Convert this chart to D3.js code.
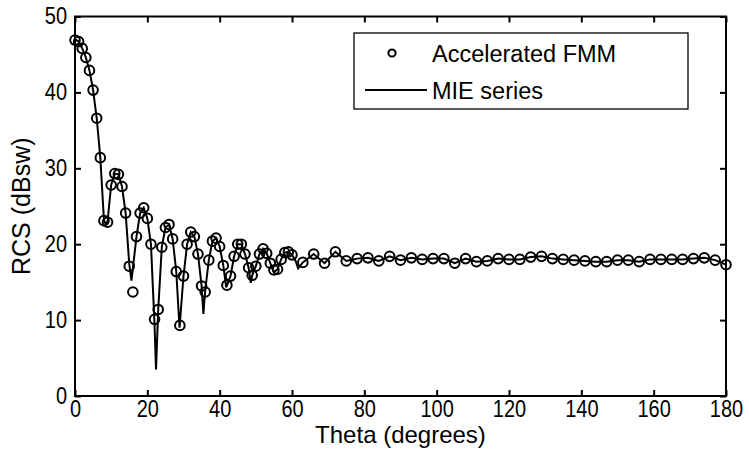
<!DOCTYPE html>
<html>
<head>
<meta charset="utf-8">
<script src="https://cdn.jsdelivr.net/npm/d3@7"></script>
<style>
  html, body { margin: 0; padding: 0; background: #fff; }
  svg { display: block; }
  text { font-family: "Liberation Sans", Arial, sans-serif; fill: #000; }
</style>
</head>
<body>
<svg id="chart" width="749" height="459"></svg>
<script>
// ---- data ----
const fmmTheta = [0,1,2,3,4,5,6,7,8,9,10,11,12,13,14,15,16,17,18,19,20,21,22,23,24,25,26,27,28,29,30,
  31,32,33,34,35,36,37,38,39,40,41,42,43,44,45,46,47,48,49,50,51,52,53,54,55,56,57,58,59,60,
  63,66,69,72,75,78,81,84,87,90,93,96,99,102,105,108,111,114,117,120,123,126,129,132,135,138,141,144,147,150,153,156,159,162,165,168,171,174,177,180];
const fmmRcs = [46.9,46.7,45.8,44.6,42.9,40.3,36.6,31.4,23.1,22.9,27.8,29.3,29.2,27.6,24.1,17.1,13.7,21.0,24.1,24.8,23.4,20.0,10.1,11.4,19.6,22.2,22.6,20.7,16.4,9.3,15.8,
  20.0,21.6,21.0,18.7,14.5,13.7,17.9,20.4,20.8,19.7,17.2,14.6,15.8,18.4,20.0,20.0,18.7,16.9,15.9,17.1,18.7,19.4,18.8,17.5,16.6,16.7,18.0,18.9,19.0,18.6,
  17.6,18.7,17.5,19.0,17.8,18.1,18.2,17.8,18.4,17.9,18.2,18.0,18.1,18.1,17.5,18.1,17.7,17.8,18.1,18.0,18.0,18.3,18.4,18.1,18.0,17.9,17.8,17.7,17.7,17.9,17.9,17.7,18.0,18.0,18.0,18.0,18.1,18.2,17.9,17.3];

const mieTheta = [0,1,2,3,4,5,6,7,8,8.5,9,10,11,12,13,14,15,15.6,16,17,18,19,20,21,22,22.4,23,24,25,26,27,28,28.9,30,
  31,32,33,34,35,35.5,36,37,38,39,40,41,41.8,43,44,45,46,47,48,48.6,49,50,51,52,53,54,55,56,57,58,59,60,61,61.7,
  63,66,69,72,75,78,81,84,87,90,93,96,99,102,105,108,111,114,117,120,123,126,129,132,135,138,141,144,147,150,153,156,159,162,165,168,171,174,177,180];
const mieRcs = [47.0,46.7,45.8,44.6,42.9,40.3,36.6,31.4,23.2,22.6,23.0,27.8,29.3,29.2,27.6,24.1,17.4,15.2,16.8,21.0,24.1,24.8,23.4,20.0,9.3,3.5,11.3,19.6,22.2,22.6,20.7,16.4,9.0,15.8,
  20.0,21.6,21.0,18.7,14.5,10.8,13.9,17.9,20.4,20.8,19.7,17.2,14.3,15.8,18.4,20.0,20.0,18.7,16.9,14.9,15.9,17.1,18.7,19.4,18.8,17.5,16.3,16.7,18.0,18.9,19.0,18.6,17.8,16.8,
  17.6,18.7,17.5,19.0,17.8,18.1,18.2,17.8,18.4,17.9,18.2,18.0,18.1,18.1,17.5,18.1,17.7,17.8,18.1,18.0,18.0,18.3,18.4,18.1,18.0,17.9,17.8,17.7,17.7,17.9,17.9,17.7,18.0,18.0,18.0,18.0,18.1,18.2,17.9,17.3];

const xTicks = [0,20,40,60,80,100,120,140,160,180];
const yTicks = [0,10,20,30,40,50];
const seriesNames = ["Accelerated FMM", "MIE series"];
const xLabel = "Theta (degrees)";
const yLabel = "RCS (dBsw)";

// ---- layout ----
const svg = d3.select("#chart");
const L = 75, R = 726, T = 16.5, B = 396;
const x = d3.scaleLinear().domain([0,180]).range([L,R]);
const y = d3.scaleLinear().domain([0,50]).range([B,T]);
const SY = 1.2; // vertical stretch of tick labels

const g = svg.append("g");

// line
const line = d3.line().x(d => x(d[0])).y(d => y(d[1]));
g.append("path")
  .datum(mieTheta.map((t,i) => [t, mieRcs[i]]))
  .attr("d", line)
  .attr("fill","none").attr("stroke","#000").attr("stroke-width",2)
  .attr("stroke-linejoin","miter");

// markers
g.selectAll("circle.fmm")
  .data(fmmTheta.map((t,i) => [t, fmmRcs[i]]))
  .join("circle").attr("class","fmm")
  .attr("cx", d => x(d[0])).attr("cy", d => y(d[1])).attr("r", 4.8)
  .attr("fill","none").attr("stroke","#000").attr("stroke-width",2);

// axes (MATLAB style box with inward ticks)
const tickLen = 6;
const xAxisB = d3.axisBottom(x).tickValues(xTicks).tickSize(-tickLen).tickPadding(4).tickSizeOuter(0);
const xAxisT = d3.axisTop(x).tickValues(xTicks).tickSize(-tickLen).tickFormat("").tickSizeOuter(0);
const yAxisL = d3.axisLeft(y).tickValues(yTicks).tickSize(-tickLen).tickPadding(8).tickSizeOuter(0);
const yAxisR = d3.axisRight(y).tickValues(yTicks).tickSize(-tickLen).tickFormat("").tickSizeOuter(0);

function style(sel){
  sel.select(".domain").remove();
  sel.selectAll(".tick line").attr("stroke","#000").attr("stroke-width",2);
  sel.selectAll(".tick text").attr("font-size",20).attr("fill","#000")
    .attr("font-family","'Liberation Sans', Arial, sans-serif");
}
svg.append("g").attr("transform",`translate(0,${B})`).call(xAxisB).call(style)
  .selectAll(".tick text").attr("y", 4/SY).attr("transform",`scale(1,${SY})`);
svg.append("g").attr("transform",`translate(0,${T})`).call(xAxisT).call(style);
svg.append("g").attr("transform",`translate(${L},0)`).call(yAxisL).call(style)
  .selectAll(".tick text").attr("dy","0.3em").attr("transform",`scale(1,${SY})`);
svg.append("g").attr("transform",`translate(${R},0)`).call(yAxisR).call(style);

svg.append("rect").attr("x",L).attr("y",T).attr("width",R-L).attr("height",B-T)
  .attr("fill","none").attr("stroke","#000").attr("stroke-width",2);

// axis labels
svg.append("text").attr("x",(L+R)/2).attr("y",443).attr("text-anchor","middle")
  .attr("font-size",24).text(xLabel);
svg.append("text").attr("transform",`translate(30,${(T+B)/2}) rotate(-90)`).attr("text-anchor","middle")
  .attr("font-size",25).text(yLabel);

// legend
const lg = svg.append("g");
lg.append("rect").attr("x",354).attr("y",33).attr("width",334).attr("height",76)
  .attr("fill","#fff").attr("stroke","#000").attr("stroke-width",1.3);
lg.append("circle").attr("cx",392).attr("cy",53).attr("r",3.6)
  .attr("fill","none").attr("stroke","#000").attr("stroke-width",2);
lg.append("text").attr("x",432).attr("y",61.5).attr("font-size",23.5).text(seriesNames[0]);
lg.append("line").attr("x1",365).attr("x2",427).attr("y1",90).attr("y2",90)
  .attr("stroke","#000").attr("stroke-width",2);
lg.append("text").attr("x",432).attr("y",99).attr("font-size",23.5).text(seriesNames[1]);
</script>
</body>
</html>
